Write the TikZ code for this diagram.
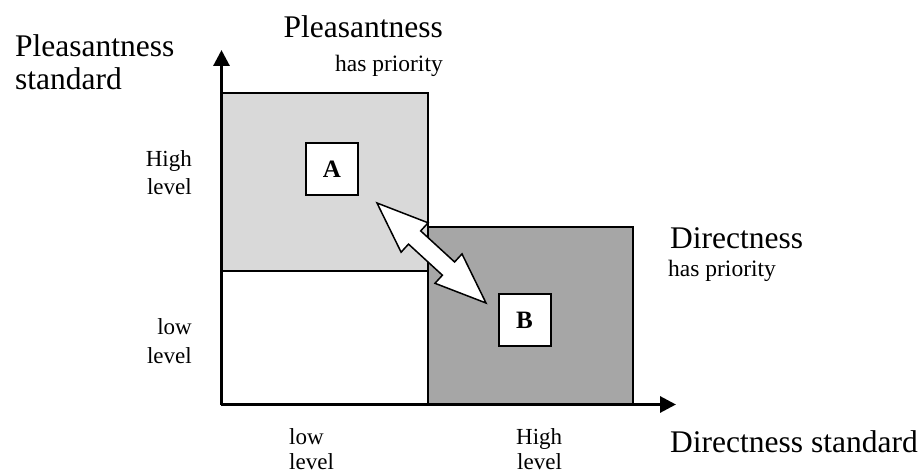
\documentclass[tikz,border=0pt]{standalone}
\usepackage{fontspec}
\setmainfont{Liberation Serif}
\usetikzlibrary{arrows.meta}
\begin{document}
\begin{tikzpicture}[x=1pt,y=-1pt,
  big/.style={inner sep=0pt,font=\fontsize{31.5}{33}\selectfont},
  small/.style={inner sep=0pt,font=\fontsize{23.5}{27}\selectfont},
  lvl/.style={inner sep=0pt,font=\fontsize{23}{27}\selectfont},
  region/.style={draw=black,line width=2pt},
  letterbox/.style={draw=black,line width=2pt,fill=white,minimum size=52pt,inner sep=0pt,font=\fontsize{25}{25}\selectfont\bfseries},
  axis/.style={line width=3pt,-{Triangle[width=16pt,length=16pt]}}]
\useasboundingbox (0,0) rectangle (922,473);
\definecolor{lightregion}{HTML}{D9D9D9}
\definecolor{darkregion}{HTML}{A6A6A6}
% regions
\draw[region,fill=lightregion] (221.5,93) rectangle (428,271);
\draw[region,fill=white] (221.5,271) rectangle (428,404.5);
\draw[region,fill=darkregion] (428,227) rectangle (633,404.5);
% axes
\coordinate (origin) at (221.5,404.5);
\coordinate (ytip) at (221.5,50);
\coordinate (xtip) at (676,404.5);
\draw[axis] (origin) -- (ytip);
\draw[axis] (origin) -- (xtip);
% letter boxes
\node[letterbox] (A) at (332,169) {A};
\node[letterbox] (B) at (524.5,320) {B};
% double arrow
\draw[fill=white,line width=1.5pt,line join=miter]
  (377,203) -- (428.1,222.8) -- (420.7,230.9) -- (454.6,262.0) -- (462.0,253.9)
  -- (486,303) -- (435.0,283.3) -- (442.4,275.2) -- (408.5,244.1) -- (401.1,252.2) -- cycle;
% labels
\node[big,anchor=base west] (yl1) at (15,57) {Pleasantness};
\node[big,anchor=base west] (yl2) at (15,90) {standard};
\node[big,anchor=base east] (pl1) at (443,38) {Pleasantness};
\node[small,anchor=base east] (pl2) at (443,72) {has priority};
\node[big,anchor=base west] (dl1) at (670,249) {Directness};
\node[small,anchor=base west] (dl2) at (668,277) {has priority};
\node[big,anchor=base west] (xl) at (670,452) {Directness standard};
\node[lvl,anchor=base east] (yh1) at (192,167) {High};
\node[lvl,anchor=base east] (yh2) at (192,195) {level};
\node[lvl,anchor=base east] (ylo1) at (192,335) {low};
\node[lvl,anchor=base east] (ylo2) at (192,363) {level};
\node[lvl,anchor=base west] (xlo1) at (289,444) {low};
\node[lvl,anchor=base west] (xlo2) at (289,469.5) {level};
\node[lvl,anchor=base west] (xh1) at (516,444) {High};
\node[lvl,anchor=base west] (xh2) at (517,469.5) {level};
\end{tikzpicture}
\end{document}
